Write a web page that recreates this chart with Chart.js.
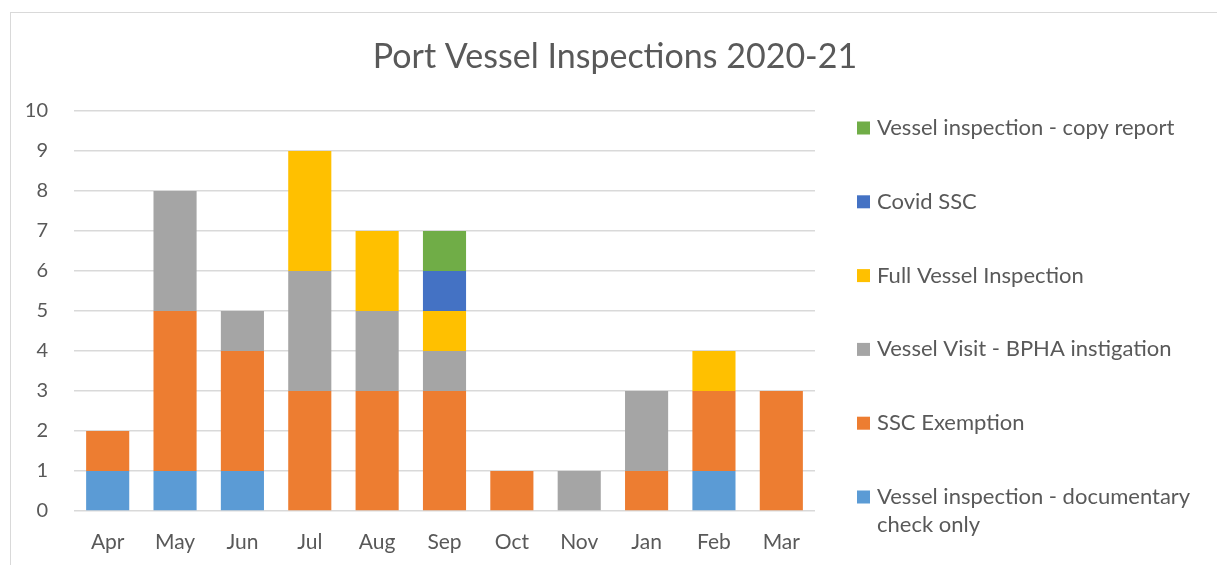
<!DOCTYPE html>
<html>
<head>
<meta charset="utf-8">
<script src="https://cdn.jsdelivr.net/npm/chart.js@4/dist/chart.umd.min.js"></script>
<style>
    body { margin: 0; background: #fff; overflow: hidden; }
    #frame { position: absolute; left: 10px; top: 12px; width: 1300px; height: 600px; border: 1px solid #d9d9d9; }
    #chart { position: absolute; left: 0; top: 0; }
</style>
</head>
<body>
<div id="frame"></div>
<canvas id="chart" width="1217" height="565"></canvas>
<script>
// Chart values
const months = ["Apr", "May", "Jun", "Jul", "Aug", "Sep", "Oct", "Nov", "Jan", "Feb", "Mar"];
const docCheck = [1, 1, 1, 0, 0, 0, 0, 0, 0, 1, 0];
const sscExemption = [1, 4, 3, 3, 3, 3, 1, 0, 1, 2, 3];
const bphaVisit = [0, 3, 1, 3, 2, 1, 0, 1, 2, 0, 0];
const fullInspection = [0, 0, 0, 3, 2, 1, 0, 0, 0, 1, 0];
const covidSsc = [0, 0, 0, 0, 0, 1, 0, 0, 0, 0, 0];
const copyReport = [0, 0, 0, 0, 0, 1, 0, 0, 0, 0, 0];

const FONT = "Lato, 'Liberation Sans', sans-serif";
const TEXT = "#595959";

// Title and legend drawn on the right, in reverse order like the original
const sideLegend = {
    id: "sideLegend",
    afterDraw(chart) {
        const ctx = chart.ctx;
        ctx.save();
        ctx.fillStyle = TEXT;
        ctx.textAlign = "center";
        ctx.textBaseline = "middle";
        ctx.font = "34px " + FONT;
        ctx.fillText("Port Vessel Inspections 2020-21", 615, 57);

        ctx.font = "22px " + FONT;
        ctx.textAlign = "left";
        const sets = chart.data.datasets.slice().reverse();
        sets.forEach((ds, i) => {
            const y = 128 + i * 73.8;
            ctx.fillStyle = ds.backgroundColor;
            ctx.fillRect(857, y - 6.5, 13, 13);
            ctx.fillStyle = TEXT;
            const lines = Array.isArray(ds.legendLines) ? ds.legendLines : [ds.label];
            lines.forEach((ln, j) => ctx.fillText(ln, 877, y + j * 28));
        });
        ctx.restore();
    }
};

const ctx = document.querySelector("#chart").getContext("2d");

new Chart(ctx, {
    type: "bar",
    data: {
        labels: months,
        datasets: [
            { label: "Vessel inspection - documentary check only", legendLines: ["Vessel inspection - documentary", "check only"], data: docCheck, backgroundColor: "#5B9BD5" },
            { label: "SSC Exemption", data: sscExemption, backgroundColor: "#ED7D31" },
            { label: "Vessel Visit - BPHA instigation", data: bphaVisit, backgroundColor: "#A5A5A5" },
            { label: "Full Vessel Inspection", data: fullInspection, backgroundColor: "#FFC000" },
            { label: "Covid SSC", data: covidSsc, backgroundColor: "#4472C4" },
            { label: "Vessel inspection - copy report", data: copyReport, backgroundColor: "#70AD47" }
        ]
    },
    options: {
        responsive: false,
        animation: false,
        categoryPercentage: 1,
        barPercentage: 0.64,
        layout: { padding: { left: 10, top: 111, right: 402, bottom: 0 } },
        plugins: {
            legend: { display: false },
            title: { display: false },
            tooltip: { enabled: false }
        },
        scales: {
            x: {
                stacked: true,
                grid: { display: false },
                border: { display: false },
                ticks: { color: TEXT, font: { family: FONT, size: 21 }, padding: 11 },
                afterFit: s => { s.height = 54; }
            },
            y: {
                stacked: true,
                min: 0,
                max: 10,
                grid: { color: "#D9D9D9", lineWidth: 1.5, drawTicks: false },
                border: { display: false },
                ticks: { stepSize: 1, color: TEXT, font: { family: FONT, size: 20 }, padding: 26 },
                afterFit: s => { s.width = 64; }
            }
        }
    },
    plugins: [sideLegend]
});
</script>
</body>
</html>
